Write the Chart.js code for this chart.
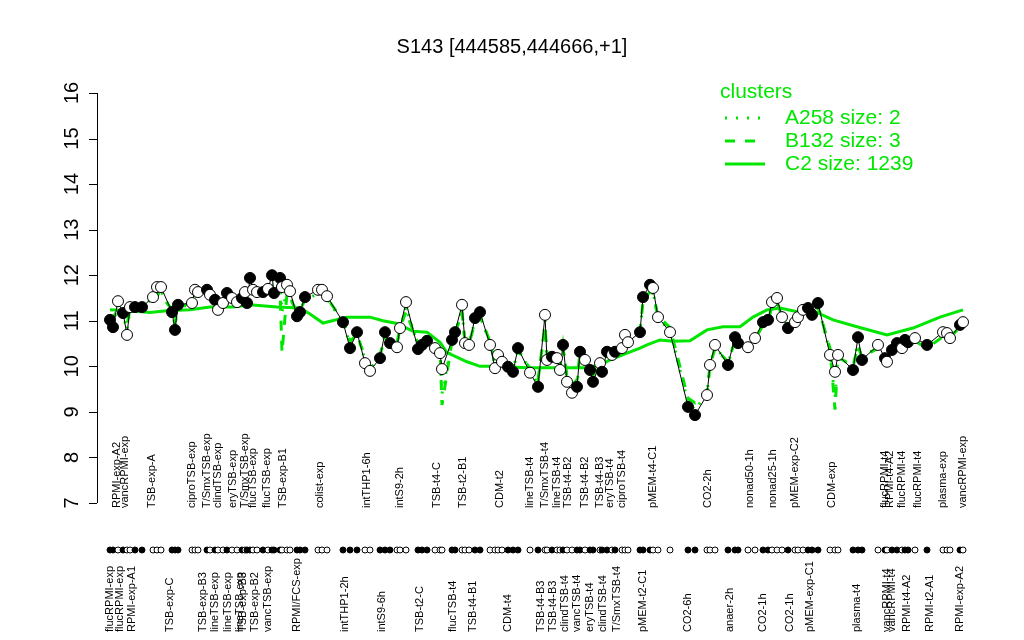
<!DOCTYPE html>
<html>
<head>
<meta charset="utf-8">
<script src="https://cdn.jsdelivr.net/npm/chart.js@4.4.1/dist/chart.umd.min.js"></script>
<style>
  body { margin: 0; background: #fff; }
  canvas { display: block; }
</style>
</head>
<body>
<canvas id="exprChart" width="1024" height="640"></canvas>
<script>
// sample positions along the x axis (arbitrary units) and expression values
const samplePos = [
  10, 13, 18, 23, 27, 30, 35, 42, 53, 57,
  61, 72, 75, 78, 92, 95, 98, 107, 110, 115,
  118, 123, 127, 132, 137, 142, 145, 147, 150, 153,
  157, 163, 168, 172, 174, 180, 182, 187, 190, 197,
  200, 205, 218, 222, 227, 243, 250, 257, 265, 270,
  280, 285, 290, 297, 300, 306, 318, 322, 327, 335,
  340, 342, 352, 355, 362, 365, 369, 375, 380, 390,
  395, 398, 402, 408, 413, 418, 430, 438, 445, 447,
  452, 457, 460, 463, 467, 472, 477, 480, 485, 490,
  493, 500, 502, 507, 512, 515, 522, 525, 528, 540,
  543, 550, 553, 558, 570, 588, 595, 607, 610, 615,
  628, 635, 638, 648, 655, 663, 668, 672, 677, 682,
  688, 695, 698, 703, 708, 712, 718, 730, 735, 738,
  753, 758, 762, 778, 785, 787, 792, 797, 802, 805,
  808, 815, 827, 843, 847, 850, 860, 863
];
const expression = [
  11.02, 10.86, 11.43, 11.17, 10.69, 11.30, 11.30, 11.30, 11.52, 11.74,
  11.74, 11.19, 10.80, 11.35, 11.39, 11.68, 11.63, 11.68, 11.57, 11.46,
  11.24, 11.39, 11.61, 11.50, 11.41, 11.50, 11.63, 11.39, 11.94, 11.68,
  11.63, 11.63, 11.70, 12.00, 11.61, 11.94, 11.74, 11.79, 11.65, 11.10,
  11.19, 11.52, 11.68, 11.68, 11.54, 10.97, 10.40, 10.75, 10.07, 9.90,
  10.18, 10.75, 10.51, 10.42, 10.84, 11.41, 10.38, 10.47, 10.56, 10.40,
  10.29, 9.94, 10.58, 10.75, 11.35, 10.51, 10.47, 11.06, 11.19, 10.47,
  9.96, 10.25, 10.10, 9.99, 9.88, 10.40, 9.86, 9.55, 11.13, 10.14,
  10.21, 10.18, 9.92, 10.47, 9.66, 9.42, 9.55, 10.32, 10.14, 9.92,
  9.66, 10.07, 9.88, 10.32, 10.25, 10.32, 10.40, 10.69, 10.53, 10.75,
  11.52, 11.79, 11.72, 11.08, 10.75, 9.11, 8.93, 9.37, 10.03, 10.47,
  10.03, 10.64, 10.51, 10.42, 10.62, 10.97, 11.02, 11.41, 11.50, 11.08,
  10.84, 10.97, 11.08, 11.24, 11.28, 11.13, 11.39, 10.25, 9.88, 10.25,
  9.92, 10.64, 10.14, 10.47, 10.18, 10.10, 10.36, 10.51, 10.40, 10.58,
  10.53, 10.62, 10.47, 10.75, 10.73, 10.62, 10.91, 10.97
];
// 1 = filled marker, 0 = open marker (alternates by condition)
const filledFlag = [
  1, 1, 0, 1, 0, 0, 1, 1, 0, 0,
  0, 1, 1, 1, 0, 0, 0, 1, 0, 1,
  0, 0, 1, 0, 0, 1, 0, 1, 1, 0,
  0, 1, 0, 1, 1, 1, 0, 0, 0, 1,
  1, 1, 0, 0, 0, 1, 1, 1, 0, 0,
  1, 1, 1, 0, 0, 0, 1, 1, 1, 0,
  0, 0, 1, 1, 0, 0, 0, 1, 1, 0,
  0, 0, 0, 1, 1, 1, 0, 1, 0, 0,
  1, 0, 0, 1, 0, 0, 1, 1, 0, 1,
  1, 0, 1, 1, 0, 1, 0, 0, 0, 1,
  1, 1, 0, 0, 0, 1, 1, 0, 0, 0,
  1, 1, 1, 0, 0, 1, 1, 0, 0, 0,
  1, 0, 0, 0, 1, 1, 1, 0, 0, 0,
  1, 1, 1, 0, 1, 0, 1, 1, 0, 1,
  1, 0, 1, 0, 0, 0, 1, 0
];

// cluster profiles
const clusterA258 = [
  10.95, 10.95, 11.35, 11.15, 10.80, 11.25, 11.30, 11.30, 11.50, 11.65,
  11.65, 11.20, 10.90, 11.30, 11.35, 11.60, 11.55, 11.60, 11.55, 11.45,
  11.30, 11.40, 11.60, 11.50, 11.40, 11.45, 11.55, 11.40, 11.80, 11.60,
  11.55, 11.60, 11.60, 11.85, 11.55, 11.80, 11.20, 11.65, 11.55, 11.15,
  11.20, 11.45, 11.60, 11.60, 11.50, 10.95, 10.50, 10.70, 10.15, 9.95,
  10.20, 10.70, 10.50, 10.45, 10.80, 11.30, 10.45, 10.45, 10.50, 10.40,
  10.30, 9.40, 10.55, 10.70, 11.25, 10.50, 10.50, 11.00, 11.10, 10.50,
  10.00, 10.25, 10.10, 10.00, 9.90, 10.40, 9.90, 9.60, 11.00, 10.20,
  10.20, 10.20, 9.95, 10.45, 9.75, 9.50, 9.60, 10.30, 10.15, 9.95,
  9.75, 10.05, 9.90, 10.30, 10.25, 10.30, 10.40, 10.65, 10.55, 10.75,
  11.45, 11.70, 11.65, 11.05, 10.80, 9.20, 9.05, 9.40, 10.00, 10.45,
  10.05, 10.60, 10.50, 10.40, 10.60, 10.95, 11.00, 11.35, 11.45, 11.05,
  10.85, 10.95, 11.05, 11.20, 11.25, 11.10, 11.35, 10.30, 9.30, 10.25,
  9.95, 10.55, 10.15, 10.45, 10.20, 10.15, 10.35, 10.50, 10.40, 10.55,
  10.50, 10.60, 10.45, 10.70, 10.70, 10.60, 10.90, 10.95
];
const clusterB132 = [
  11.10, 11.05, 11.30, 11.20, 10.90, 11.25, 11.35, 11.35, 11.45, 11.60,
  11.55, 11.25, 10.95, 11.30, 11.40, 11.55, 11.60, 11.70, 11.65, 11.55,
  11.35, 11.45, 11.70, 11.55, 11.45, 11.45, 11.60, 11.45, 11.70, 11.60,
  11.55, 11.55, 11.65, 11.75, 11.55, 11.70, 10.30, 11.60, 11.50, 11.20,
  11.25, 11.45, 11.60, 11.65, 11.50, 11.00, 10.55, 10.70, 10.20, 10.00,
  10.25, 10.65, 10.50, 10.50, 10.85, 11.20, 10.50, 10.50, 10.55, 10.45,
  10.35, 9.15, 10.55, 10.70, 11.20, 10.55, 10.50, 10.95, 11.10, 10.55,
  10.05, 10.25, 10.15, 10.05, 9.95, 10.35, 9.95, 9.70, 10.90, 10.25,
  10.25, 10.20, 10.00, 10.40, 9.80, 9.60, 9.70, 10.30, 10.20, 10.00,
  9.80, 10.10, 9.95, 10.30, 10.30, 10.35, 10.45, 10.60, 10.60, 10.80,
  11.40, 11.65, 11.60, 11.10, 10.85, 9.30, 9.20, 9.45, 10.00, 10.40,
  10.10, 10.55, 10.50, 10.45, 10.60, 10.90, 11.00, 11.30, 11.40, 11.10,
  10.90, 10.95, 11.05, 11.15, 11.20, 11.15, 11.30, 10.40, 9.05, 10.20,
  10.00, 10.45, 10.20, 10.40, 10.25, 10.20, 10.35, 10.45, 10.45, 10.55,
  10.50, 10.55, 10.40, 10.65, 10.70, 10.65, 10.85, 10.95
];
const c2Pos = [10, 30, 50, 67, 90, 110, 133, 150, 177, 200, 210, 223, 247, 270, 283, 297, 313, 327,
  340, 347, 367, 380, 393, 427, 460, 487, 500, 510, 527, 540, 547, 560, 573, 590, 607, 623, 640,
  653, 667, 680, 697, 707, 720, 733, 757, 787, 813, 840, 863];
const c2Val = [11.24, 11.22, 11.18, 11.22, 11.24, 11.30, 11.30, 11.35, 11.30, 11.28, 11.15, 10.95, 11.08,
  11.08, 11.00, 10.94, 10.77, 10.75, 10.53, 10.30, 10.10, 10.00, 10.00, 9.97, 9.97, 9.97, 10.03,
  10.14, 10.29, 10.40, 10.47, 10.58, 10.55, 10.56, 10.80, 10.87, 10.87, 11.08, 11.24, 11.28, 11.20,
  11.28, 11.15, 11.02, 10.87, 10.69, 10.84, 11.08, 11.24];

const yTicks = [7, 8, 9, 10, 11, 12, 13, 14, 15, 16];

// condition labels shown in two rows around the rug
const upperLabelPos = [17, 25, 52, 92, 107, 118, 133, 145, 153, 167, 183, 220,
  267, 300, 337, 363, 400, 430, 445, 457, 468, 485, 500, 510, 522, 553,
  608, 650, 673, 695, 732, 785, 790, 802, 818, 843, 863];
const upperLabelText = ['RPMI-exp-A2', 'vancRPMI-exp', 'TSB-exp-A', 'ciproTSB-exp', 'T/SmxTSB-exp',
  'clindTSB-exp', 'eryTSB-exp', 'T/SmxTSB-exp', 'flucTSB-exp', 'flucTSB-exp', 'TSB-exp-B1', 'colist-exp',
  'intTHP1-6h', 'intS9-2h', 'TSB-t4-C', 'TSB-t2-B1', 'CDM-t2', 'lineTSB-t4', 'T/SmxTSB-t4', 'lineTSB-t4',
  'TSB-t4-B2', 'TSB-t4-B2', 'TSB-t4-B3', 'eryTSB-t4', 'ciproTSB-t4', 'pMEM-t4-C1',
  'CO2-2h', 'nonad50-1h', 'nonad25-1h', 'pMEM-exp-C2', 'CDM-exp', 'flucRPMI-t4', 'RPMI-t4-A2',
  'flucRPMI-t4', 'flucRPMI-t4', 'plasma-exp', 'vancRPMI-exp'];
const lowerLabelPos = [10, 20, 32, 70, 103, 115, 128, 140, 143, 155, 168, 197,
  245, 282, 320, 353, 373, 408, 441, 453, 465, 477, 490, 503, 517, 543,
  588, 630, 663, 690, 710, 757, 787, 792, 807, 830, 860];
const lowerLabelText = ['flucRPMI-exp', 'flucRPMI-exp', 'RPMI-exp-A1', 'TSB-exp-C', 'TSB-exp-B3',
  'lineTSB-exp', 'lineTSB-exp', 'lineTSB-exp', 'TSB-exp-B3', 'TSB-exp-B2', 'vancTSB-exp', 'RPMI/FCS-exp',
  'intTHP1-2h', 'intS9-6h', 'TSB-t2-C', 'flucTSB-t4', 'TSB-t4-B1', 'CDM-t4', 'TSB-t4-B3', 'TSB-t4-B3',
  'clindTSB-t4', 'vancTSB-t4', 'eryTSB-t4', 'clindTSB-t4', 'T/SmxTSB-t4', 'pMEM-t2-C1',
  'CO2-6h', 'anaer-2h', 'CO2-1h', 'CO2-1h', 'pMEM-exp-C1', 'plasma-t4', 'vancRPMI-t4', 'vancRPMI-t4',
  'RPMI-t4-A2', 'RPMI-t2-A1', 'RPMI-exp-A2'];

const legendNames = ['A258 size: 2', 'B132 size: 3', 'C2 size: 1239'];
const chartTitle = 'S143 [444585,444666,+1]';

const GREEN = '#00e600';
const FONT = "'Liberation Sans', Arial, sans-serif";

const toPoints = (xs, ys) => xs.map((x, i) => ({ x: x, y: ys[i] }));

const decorations = {
  id: 'decorations',
  afterDraw(chart) {
    const ctx = chart.ctx;
    const xs = chart.scales.x;
    const ys = chart.scales.y;
    ctx.save();

    // title
    ctx.fillStyle = '#000';
    ctx.font = '20px ' + FONT;
    ctx.textAlign = 'center';
    ctx.textBaseline = 'middle';
    ctx.fillText(chartTitle, 512, 47);

    // y axis, R style
    const axisX = 97;
    ctx.strokeStyle = '#000';
    ctx.lineWidth = 1;
    ctx.beginPath();
    ctx.moveTo(axisX + 0.5, ys.getPixelForValue(7));
    ctx.lineTo(axisX + 0.5, ys.getPixelForValue(16));
    yTicks.forEach(t => {
      const py = Math.round(ys.getPixelForValue(t)) + 0.5;
      ctx.moveTo(axisX, py);
      ctx.lineTo(axisX - 8, py);
    });
    ctx.stroke();
    ctx.font = '20px ' + FONT;
    yTicks.forEach(t => {
      ctx.save();
      ctx.translate(72, ys.getPixelForValue(t));
      ctx.rotate(-Math.PI / 2);
      ctx.fillText(String(t), 0, 0);
      ctx.restore();
    });

    // rug of samples
    samplePos.forEach((p, i) => {
      ctx.beginPath();
      ctx.arc(xs.getPixelForValue(p), 550, 3, 0, Math.PI * 2);
      ctx.fillStyle = filledFlag[i] ? '#000' : '#fff';
      ctx.fill();
      ctx.stroke();
    });

    // condition labels
    ctx.fillStyle = '#000';
    ctx.font = '11px ' + FONT;
    ctx.textAlign = 'left';
    ctx.textBaseline = 'middle';
    const drawLabels = (pos, txt, base) => {
      pos.forEach((p, i) => {
        ctx.save();
        ctx.translate(xs.getPixelForValue(p), base);
        ctx.rotate(-Math.PI / 2);
        ctx.fillText(txt[i], 0, 0);
        ctx.restore();
      });
    };
    drawLabels(upperLabelPos, upperLabelText, 508);
    drawLabels(lowerLabelPos, lowerLabelText, 632);

    // legend
    ctx.fillStyle = GREEN;
    ctx.strokeStyle = GREEN;
    ctx.font = '21px ' + FONT;
    ctx.fillText('clusters', 720, 92);
    const dashes = [[2, 9], [10, 10], []];
    legendNames.forEach((name, i) => {
      const ly = 118 + i * 23;
      ctx.lineWidth = 3;
      ctx.setLineDash(dashes[i]);
      ctx.beginPath();
      ctx.moveTo(725, ly);
      ctx.lineTo(765, ly);
      ctx.stroke();
      ctx.setLineDash([]);
      ctx.fillText(name, 785, ly);
    });
    ctx.restore();
  }
};

new Chart(document.getElementById('exprChart'), {
  type: 'line',
  data: {
    datasets: [
      {
        label: 'expression',
        data: toPoints(samplePos, expression),
        borderColor: '#000',
        borderWidth: 1,
        pointRadius: 5.5,
        pointBorderWidth: 1,
        pointBorderColor: '#000',
        pointBackgroundColor: filledFlag.map(f => f ? '#000' : '#fff'),
        order: 0
      },
      {
        label: 'C2',
        data: toPoints(c2Pos, c2Val),
        borderColor: GREEN,
        borderWidth: 3,
        pointRadius: 0,
        order: 1
      },
      {
        label: 'B132',
        data: toPoints(samplePos, clusterB132),
        borderColor: GREEN,
        borderWidth: 3,
        borderDash: [10, 10],
        pointRadius: 0,
        order: 2
      },
      {
        label: 'A258',
        data: toPoints(samplePos, clusterA258),
        borderColor: GREEN,
        borderWidth: 3,
        borderDash: [2, 8],
        pointRadius: 0,
        order: 3
      }
    ]
  },
  options: {
    responsive: false,
    animation: false,
    devicePixelRatio: 1,
    layout: { padding: { left: 100, right: 24, top: 93, bottom: 137 } },
    scales: {
      x: { type: 'linear', min: 0, max: 900, display: false },
      y: { min: 7, max: 16, display: false }
    },
    plugins: {
      legend: { display: false },
      tooltip: { enabled: false },
      title: { display: false }
    }
  },
  plugins: [decorations]
});
</script>
</body>
</html>
